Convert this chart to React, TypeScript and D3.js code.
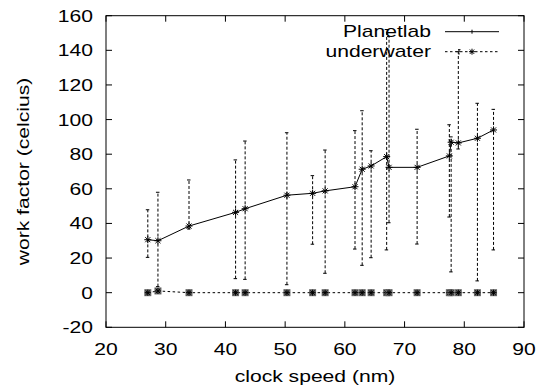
import React from "react";
import * as d3 from "d3";

const xs = [27.0, 28.7, 33.9, 41.7, 43.3, 50.3, 54.6, 56.7, 61.7, 62.9, 64.4, 67.0, 67.4, 72.1, 77.5, 77.8, 79.0, 82.2, 84.9];
const planetlab = [30.6, 30.0, 38.5, 46.4, 48.5, 56.3, 57.4, 58.8, 61.2, 71.3, 73.2, 78.6, 72.4, 72.4, 79.0, 86.9, 86.5, 89.2, 94.0];
const errLow = [20.4, 3.5, 36.8, 8.1, 7.7, 4.6, 28.0, 11.2, 25.2, 15.8, 20.2, 24.7, 40.4, 28.1, 43.7, 12.0, 83.0, 6.8, 24.7];
const errHigh = [47.9, 58.0, 65.1, 76.7, 87.6, 92.4, 67.6, 82.4, 93.6, 105.1, 82.0, 152, 148, 94.4, 97.0, 90.0, 139.2, 109.4, 105.9];
const underwater = [0, 1, 0, 0, 0, 0, 0, 0, 0, 0, 0, 0, 0, 0, 0, 0, 0, 0, 0];
const xTicks = [20, 30, 40, 50, 60, 70, 80, 90];
const yTicks = [-20, 0, 20, 40, 60, 80, 100, 120, 140, 160];

const W = 546, H = 392;
const L = 106, R = 524, T = 15.7, B = 327.3;
const FONT = "'Liberation Sans', Arial, Helvetica, sans-serif";
const FS = 16;
const SX = 1.32;

function Star({ x, y, r = 3.5 }: { x: number; y: number; r?: number }) {
  const d = r * 0.72;
  return (
    <g stroke="#000" strokeWidth={1}>
      <line x1={x - r} y1={y} x2={x + r} y2={y} />
      <line x1={x} y1={y - r} x2={x} y2={y + r} />
      <line x1={x - d} y1={y - d} x2={x + d} y2={y + d} />
      <line x1={x - d} y1={y + d} x2={x + d} y2={y - d} />
    </g>
  );
}

function SText({ x, y, anchor = "start", children, rotate = 0 }: any) {
  return (
    <g transform={`translate(${x},${y}) rotate(${rotate}) scale(${SX},1)`}>
      <text x={0} y={0} textAnchor={anchor} fontFamily={FONT} fontSize={FS} fill="#000">
        {children}
      </text>
    </g>
  );
}

export default function App() {
  const x = d3.scaleLinear().domain([20, 90]).range([L, R]);
  const y = d3.scaleLinear().domain([-20, 160]).range([B, T]);
  const idx = xs.map((_, i) => i);

  const planetLine = d3.line<number>().x((i) => x(xs[i])).y((i) => y(planetlab[i]));
  const underLine = d3.line<number>().x((i) => x(xs[i])).y((i) => y(underwater[i]));

  const tl = 6;

  return (
    <svg width={W} height={H} style={{ position: "absolute", left: 0, top: 0, background: "#fff" }}>
      <rect x={0} y={0} width={W} height={H} fill="#fff" />
      {/* ticks */}
      <g stroke="#000" strokeWidth={1}>
        {xTicks.map((t) => (
          <g key={"xt" + t}>
            <line x1={x(t)} x2={x(t)} y1={B} y2={B - tl} />
            <line x1={x(t)} x2={x(t)} y1={T} y2={T + tl} />
          </g>
        ))}
        {yTicks.map((t) => (
          <g key={"yt" + t}>
            <line x1={L} x2={L + tl} y1={y(t)} y2={y(t)} />
            <line x1={R} x2={R - tl} y1={y(t)} y2={y(t)} />
          </g>
        ))}
      </g>
      {/* tick labels */}
      {yTicks.map((t) => (
        <SText key={"yl" + t} x={93} y={y(t) + 6} anchor="end">
          {t}
        </SText>
      ))}
      {xTicks.map((t) => (
        <SText key={"xl" + t} x={x(t)} y={355} anchor="middle">
          {t}
        </SText>
      ))}
      {/* axis labels */}
      <SText x={315} y={382} anchor="middle">clock speed (nm)</SText>
      <SText x={28.5} y={171.5} anchor="middle" rotate={-90}>work factor (celcius)</SText>

      {/* error bars */}
      <g stroke="#000" strokeWidth={1} fill="none">
        {idx.map((i) => (
          <g key={"eb" + i}>
            <line x1={x(xs[i])} x2={x(xs[i])} y1={y(errLow[i])} y2={y(errHigh[i])} strokeDasharray="3,2" />
            <line x1={x(xs[i]) - 2} x2={x(xs[i]) + 1.5} y1={y(errLow[i])} y2={y(errLow[i])} />
            <line x1={x(xs[i]) - 2} x2={x(xs[i]) + 1.5} y1={y(errHigh[i])} y2={y(errHigh[i])} />
          </g>
        ))}
      </g>

      {/* planetlab line */}
      <path d={planetLine(idx) || ""} fill="none" stroke="#000" strokeWidth={1} />
      {idx.map((i) => (
        <Star key={"ps" + i} x={x(xs[i])} y={y(planetlab[i])} />
      ))}

      {/* underwater line */}
      <path d={underLine(idx) || ""} fill="none" stroke="#000" strokeWidth={1} strokeDasharray="2.5,2.5" />
      {idx.map((i) => (
        <g key={"us" + i}>
          <rect x={x(xs[i]) - 3.5} y={y(underwater[i]) - 3.5} width={7} height={7} fill="#666" />
          <Star x={x(xs[i])} y={y(underwater[i])} r={3} />
        </g>
      ))}

      {/* legend */}
      <SText x={431} y={37} anchor="end">Planetlab</SText>
      <SText x={431} y={57} anchor="end">underwater</SText>
      <line x1={445} x2={499} y1={31.7} y2={31.7} stroke="#000" strokeWidth={1} />
      <line x1={472} x2={472} y1={29.7} y2={33.7} stroke="#000" strokeWidth={1} />
      <line x1={445} x2={499} y1={51.7} y2={51.7} stroke="#000" strokeWidth={1} strokeDasharray="2.5,2.5" />
      <line x1={459} x2={459} y1={49.7} y2={55.7} stroke="#000" strokeWidth={1} strokeDasharray="2,1" />
      <line x1={458} x2={460.5} y1={49.7} y2={49.7} stroke="#000" strokeWidth={1} />
      <Star x={472} y={51.7} r={3} />

      {/* border */}
      <rect x={L} y={T} width={R - L} height={B - T} fill="none" stroke="#000" strokeWidth={1} />
    </svg>
  );
}
